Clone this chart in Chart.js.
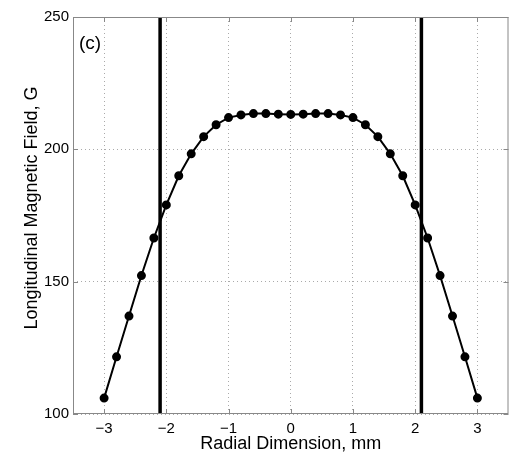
<!DOCTYPE html>
<html>
<head>
<meta charset="utf-8">
<script src="https://cdn.jsdelivr.net/npm/chart.js@4/dist/chart.umd.min.js"></script>
<style>
  html, body { margin: 0; padding: 0; background: #fff; }
  #wrap { width: 514px; height: 453px; }
</style>
</head>
<body>
<div id="wrap"><canvas id="chart" width="514" height="453"></canvas></div>
<script>
// Radial positions (mm) and measured field (G)
const radius = [-3, -2.8, -2.6, -2.4, -2.2, -2, -1.8, -1.6, -1.4, -1.2, -1, -0.8, -0.6, -0.4, -0.2, 0,
  0.2, 0.4, 0.6, 0.8, 1, 1.2, 1.4, 1.6, 1.8, 2, 2.2, 2.4, 2.6, 2.8, 3];
const field = [106, 121.6, 137, 152.3, 166.5, 179, 190, 198.3, 204.8, 209.3, 212, 213, 213.5, 213.5, 213.3, 213.2,
  213.3, 213.5, 213.5, 213, 212, 209.3, 204.8, 198.3, 190, 179, 166.5, 152.3, 137, 121.6, 106];
// boundary markers
const boundaries = [-2.1, 2.1];
const xTicks = [-3, -2, -1, 0, 1, 2, 3];
const yTicks = [100, 150, 200, 250];

const FONT = "'Liberation Sans', Arial, sans-serif";

const datasets = [{
  data: radius.map((r, i) => ({ x: r, y: field[i] })),
  borderColor: '#000',
  backgroundColor: '#000',
  borderWidth: 2,
  pointRadius: 3.5,
  pointHoverRadius: 3.5,
  showLine: true,
  order: 1
}];
boundaries.forEach(b => {
  datasets.push({
    data: [{ x: b, y: 100 }, { x: b, y: 250 }],
    borderColor: '#000',
    borderWidth: 3.5,
    pointRadius: 0,
    showLine: true,
    order: 0
  });
});

// frame box, inward ticks and panel label
const framePlugin = {
  id: 'frame',
  afterDraw(chart) {
    const { ctx, chartArea: a, scales } = chart;
    ctx.save();
    ctx.strokeStyle = '#888';
    ctx.lineWidth = 1;
    ctx.strokeRect(a.left + 0.5, a.top + 0.5, a.right - a.left - 1, a.bottom - a.top - 1);
    ctx.beginPath();
    xTicks.forEach(v => {
      const px = Math.round(scales.x.getPixelForValue(v)) + 0.5;
      ctx.moveTo(px, a.bottom); ctx.lineTo(px, a.bottom - 5);
      ctx.moveTo(px, a.top); ctx.lineTo(px, a.top + 5);
    });
    yTicks.forEach(v => {
      const py = Math.round(scales.y.getPixelForValue(v)) + 0.5;
      ctx.moveTo(a.left, py); ctx.lineTo(a.left + 5, py);
      ctx.moveTo(a.right, py); ctx.lineTo(a.right - 5, py);
    });
    ctx.stroke();
    ctx.fillStyle = '#000';
    ctx.font = '19px ' + FONT;
    ctx.textBaseline = 'middle';
    ctx.fillText('(c)', a.left + 6, a.top + 27);
    ctx.restore();
  }
};

new Chart(document.getElementById('chart'), {
  type: 'scatter',
  data: { datasets },
  options: {
    responsive: false,
    animation: false,
    layout: { padding: { top: 17, right: 5, left: 0, bottom: 0 } },
    plugins: { legend: { display: false }, tooltip: { enabled: false } },
    scales: {
      x: {
        type: 'linear',
        min: -3.5,
        max: 3.5,
        afterBuildTicks: s => { s.ticks = xTicks.map(v => ({ value: v })); },
        afterFit: s => { s.height = 39; },
        ticks: {
          color: '#000',
          font: { family: FONT, size: 15 },
          padding: 6,
          callback: v => v < 0 ? '\u2212' + Math.abs(v) : String(v)
        },
        grid: { color: '#aaa', lineWidth: 1, drawTicks: false },
        border: { display: false, dash: [1, 3] },
        title: {
          display: true,
          text: 'Radial Dimension, mm',
          color: '#000',
          font: { family: FONT, size: 18, lineHeight: 1 },
          padding: { top: 0, bottom: 0 }
        }
      },
      y: {
        type: 'linear',
        min: 100,
        max: 250,
        afterBuildTicks: s => { s.ticks = yTicks.map(v => ({ value: v })); },
        afterFit: s => { s.width = 73; },
        ticks: {
          color: '#000',
          font: { family: FONT, size: 15 },
          padding: 4
        },
        grid: { color: '#aaa', lineWidth: 1, drawTicks: false },
        border: { display: false, dash: [1, 3] },
        title: {
          display: true,
          text: '   Longitudinal Magnetic Field, G',
          color: '#000',
          font: { family: FONT, size: 18, lineHeight: 1 },
          padding: { top: 23, bottom: 0 }
        }
      }
    }
  },
  plugins: [framePlugin]
});
</script>
</body>
</html>
